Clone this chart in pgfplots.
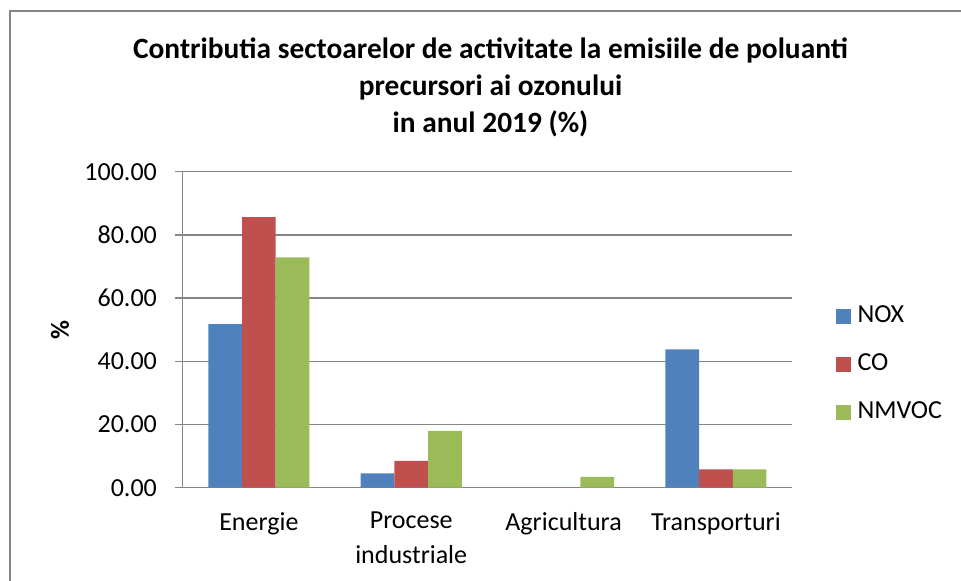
\documentclass[border=0pt]{standalone}
\usepackage{fontspec}
\setmainfont{Carlito}
\usepackage{pgfplots}
\pgfplotsset{compat=1.18}

\definecolor{noxblue}{HTML}{4F81BD}
\definecolor{cored}{HTML}{C0504D}
\definecolor{vocgreen}{HTML}{9BBB59}
\definecolor{linegray}{HTML}{868686}

\begin{document}
\begin{tikzpicture}
  % 1 px of the reference = 0.5pt
  \useasboundingbox (0,0) rectangle (480.5pt,-290pt);
  \draw[linegray, line width=1pt] (4.85pt,-295pt) -- (4.85pt,-5.5pt) -- (485pt,-5.5pt);

  \node[anchor=base, font=\fontsize{14.7}{17}\selectfont\bfseries] at (245.25pt,-29pt)
    {Contributia sectoarelor de activitate la emisiile de poluanti};
  \node[anchor=base, font=\fontsize{14.7}{17}\selectfont\bfseries] at (245.25pt,-47.5pt)
    {precursori ai ozonului};
  \node[anchor=base, font=\fontsize{14.7}{17}\selectfont\bfseries] at (245.25pt,-66pt)
    {in anul 2019 (\%)};
  \node[rotate=90, font=\fontsize{13}{15}\selectfont\bfseries] at (30pt,-165pt) {\%};

  \begin{axis}[
    at={(91.35pt,-243.85pt)}, anchor=south west,
    scale only axis,
    width=304.7pt, height=158pt,
    ybar=0pt, bar width=16.85pt,
    xmin=-0.5, xmax=3.5,
    ymin=0, ymax=100,
    xtick=data,
    xticklabels={Energie, {Procese\\[1.5pt]industriale}, Agricultura, Transporturi},
    ytick={0,20,40,60,80,100},
    axis lines*=left,
    axis line style={draw=linegray, line width=0.75pt},
    ymajorgrids,
    major grid style={draw=linegray, line width=0.75pt},
    tick align=outside,
    major tick length=4pt,
    ytick style={draw=linegray, line width=0.75pt},
    xtick style={draw=none},
    tick label style={font=\fontsize{13}{16}\selectfont},
    yticklabel style={anchor=east, inner sep=0pt, xshift=-8.7pt},
    xticklabel style={anchor=north, inner sep=0pt, align=center, yshift=-8pt},
    /pgf/number format/.cd, fixed, fixed zerofill, precision=2, assume math mode=true,
    /pgfplots/.cd,
    legend image code/.code={\fill[#1] (0pt,-3.75pt) rectangle (7.5pt,3.75pt);},
    legend style={at={(axis description cs:1,0.391)}, anchor=west, xshift=21.5pt,
      draw=none, fill=none, inner sep=0pt, row sep=12pt,
      font=\fontsize{13}{15}\selectfont,
      nodes={inner ysep=0pt, inner xsep=3.5pt, text height=9pt, text depth=3pt}},
    legend cell align=left,
    legend columns=1,
  ]
    \addplot[fill=noxblue, draw=none] coordinates {(0,51.8) (1,4.5) (2,0) (3,43.8)};
    \addplot[fill=cored, draw=none] coordinates {(0,85.6) (1,8.5) (2,0) (3,5.8)};
    \addplot[fill=vocgreen, draw=none] coordinates {(0,72.9) (1,18.0) (2,3.4) (3,5.8)};
    \legend{NOX, CO, NMVOC}
  \end{axis}
\end{tikzpicture}
\end{document}
